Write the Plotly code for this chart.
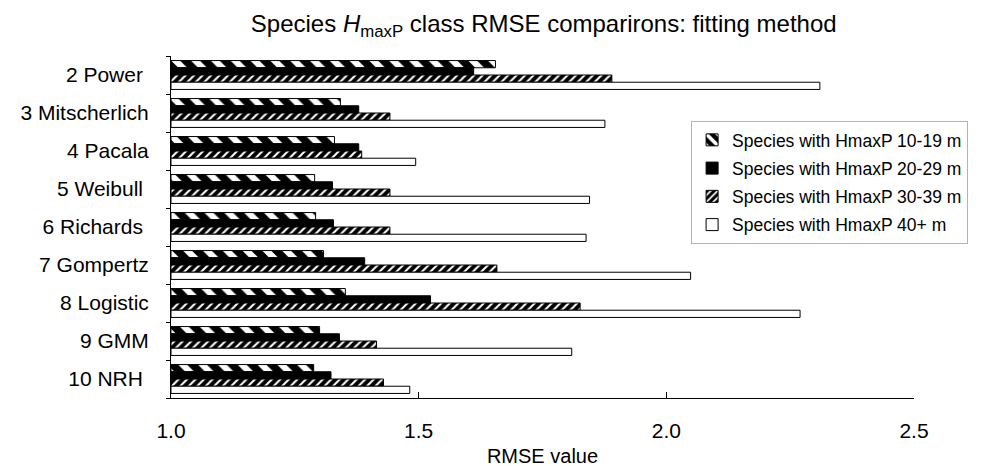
import plotly.graph_objects as go

methods = ["2 Power", "3 Mitscherlich", "4 Pacala", "5 Weibull", "6 Richards",
           "7 Gompertz", "8 Logistic", "9 GMM", "10 NRH"]
method_labels = ["2 Power\u00a0", "3 Mitscherlich", "4 Pacala", "5 Weibull\u00a0", "6 Richards\u00a0",
                 "7 Gompertz", "8 Logistic", "9 GMM", "10 NRH\u00a0"]
series_names = ["Species with HmaxP 10-19 m", "Species with HmaxP 20-29 m",
                "Species with HmaxP 30-39 m", "Species with HmaxP 40+ m"]
rmse_10_19 = [1.655, 1.342, 1.330, 1.290, 1.292, 1.308, 1.352, 1.300, 1.288]
rmse_20_29 = [1.611, 1.379, 1.379, 1.326, 1.328, 1.391, 1.524, 1.340, 1.323]
rmse_30_39 = [1.890, 1.442, 1.385, 1.442, 1.442, 1.658, 1.826, 1.415, 1.429]
rmse_40_up = [2.310, 1.876, 1.494, 1.845, 1.838, 2.049, 2.270, 1.809, 1.482]
x_ticks = [1.0, 1.5, 2.0, 2.5]
x_tick_labels = ["1.0", "1.5", "2.0", "2.5"]

FONT = "Arial, Liberation Sans, sans-serif"

patterns = [
    dict(shape="\\", bgcolor="black", fgcolor="white", size=14, solidity=0.45, fillmode="replace"),
    None,
    dict(shape="/", bgcolor="black", fgcolor="white", size=6, solidity=0.35, fillmode="replace"),
    None,
]
colors = ["black", "black", "black", "white"]
data = [rmse_10_19, rmse_20_29, rmse_30_39, rmse_40_up]

fig = go.Figure()
for i, (name, vals, col, pat) in enumerate(zip(series_names, data, colors, patterns)):
    marker = dict(color=col, line=dict(color="black", width=1))
    if pat is not None:
        marker["pattern"] = pat
    fig.add_trace(go.Bar(
        y=methods, x=[v - 1.0 for v in vals], base=1.0, orientation="h",
        name=name, marker=marker, legendgroup=f"g{i}",
    ))

fig.update_layout(
    width=983, height=466,
    margin=dict(l=163, r=77, t=48, b=76),
    paper_bgcolor="white", plot_bgcolor="white",
    barmode="group", bargap=0.24, bargroupgap=0,
    font=dict(family=FONT, size=21, color="black"),
    title=dict(text="Species <i>H</i><sub>maxP</sub> class RMSE comparirons: fitting method",
               xref="container", x=0.545, xanchor="center", y=0.966, yanchor="middle",
               font=dict(family=FONT, size=24, color="black")),
    legend=dict(x=0.70, y=0.81, xanchor="left", yanchor="top",
                bordercolor="#b4b4b4", borderwidth=1, bgcolor="white",
                font=dict(family=FONT, size=17.5, color="black"),
                traceorder="grouped", tracegroupgap=2.5),
    showlegend=True,
)
fig.update_xaxes(
    range=[1.0, 2.5], tickvals=x_ticks, ticktext=x_tick_labels,
    showgrid=False, zeroline=False, showline=True, linecolor="black", linewidth=1,
    ticks="inside", ticklen=6, tickcolor="black",
    ticklabelstandoff=14,
    title=dict(text="RMSE value", standoff=7, font=dict(family=FONT, size=20)),
    tickfont=dict(family=FONT, size=21),
)
fig.update_yaxes(
    categoryorder="array", categoryarray=methods, autorange="reversed",
    tickvals=methods, ticktext=method_labels,
    showgrid=False, showline=True, linecolor="black", linewidth=1,
    ticks="outside", ticklen=4, tickcolor="black", tickson="boundaries",
    ticklabelstandoff=17,
    tickfont=dict(family=FONT, size=21),
)

fig.write_html("out.html")
